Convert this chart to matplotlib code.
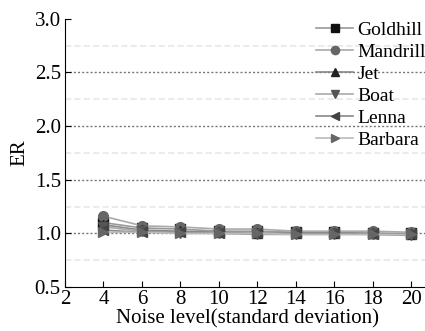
import matplotlib
matplotlib.use("Agg")
import matplotlib.pyplot as plt
from matplotlib.ticker import MultipleLocator

plt.rcParams["font.family"] = ["Liberation Serif", "DejaVu Serif"]

noise = [4, 6, 8, 10, 12, 14, 16, 18, 20]
goldhill = [1.10, 1.05, 1.04, 1.02, 1.02, 1.01, 1.01, 1.00, 1.00]
mandrill = [1.16, 1.07, 1.06, 1.04, 1.04, 1.02, 1.02, 1.02, 1.01]
jet      = [1.08, 1.03, 1.02, 1.01, 1.00, 1.00, 1.00, 1.00, 0.99]
boat     = [1.06, 1.02, 1.00, 1.00, 0.99, 0.99, 0.99, 0.99, 0.98]
lenna    = [1.03, 1.01, 1.01, 1.00, 1.00, 1.00, 1.00, 0.99, 0.99]
barbara  = [1.01, 1.01, 1.00, 1.00, 1.00, 0.99, 0.99, 0.99, 0.99]

series = [
    ("Goldhill", goldhill, "s", "#111111", "#999999"),
    ("Mandrill", mandrill, "o", "#666666", "#aaaaaa"),
    ("Jet", jet, "^", "#222222", "#888888"),
    ("Boat", boat, "v", "#555555", "#aaaaaa"),
    ("Lenna", lenna, "<", "#444444", "#888888"),
    ("Barbara", barbara, ">", "#666666", "#bbbbbb"),
]

fig = plt.figure(figsize=(4.25, 3.31), dpi=100)
ax = fig.add_axes([0.153, 0.133, 0.86, 0.81])

# dotted major grid, faint dashed minor grid
for y in [1.0, 1.5, 2.0, 2.5]:
    ax.axhline(y, color="#777777", linestyle=(0, (1.5, 1.5)), linewidth=1.0, zorder=0)
for y in [0.75, 1.25, 1.75, 2.25, 2.75]:
    ax.axhline(y, color="#ebebeb", linestyle=(0, (3, 1.5)), linewidth=1.5, zorder=0)

handles = []
for name, vals, mk, mc, lc in series:
    h, = ax.plot(noise, vals, color=lc, marker=mk, markersize=7,
                 markerfacecolor=mc, markeredgecolor=mc, linewidth=1.2, label=name)
    handles.append(h)

ax.set_xlim(2, 21)
ax.set_ylim(0.5, 3.0)
ax.xaxis.set_major_locator(MultipleLocator(2))
ax.yaxis.set_major_locator(MultipleLocator(0.5))
ax.yaxis.set_major_formatter(matplotlib.ticker.FormatStrFormatter("%.1f"))
ax.spines["top"].set_visible(False)
ax.spines["right"].set_visible(False)
ax.tick_params(direction="in", length=4, labelsize=15, color="black", pad=2)
ax.tick_params(axis="y", pad=3)
ax.set_xlabel("Noise level(standard deviation)", fontsize=15, labelpad=0)
ax.set_ylabel("ER", fontsize=15, labelpad=4)

fig.legend(handles=handles, loc="upper left", bbox_to_anchor=(0.726, 0.958),
           frameon=False, fontsize=14, handlelength=1.9, handletextpad=0.2,
           labelspacing=0.22, borderaxespad=0, markerscale=0.85)

fig.savefig("out.png", dpi=100)
